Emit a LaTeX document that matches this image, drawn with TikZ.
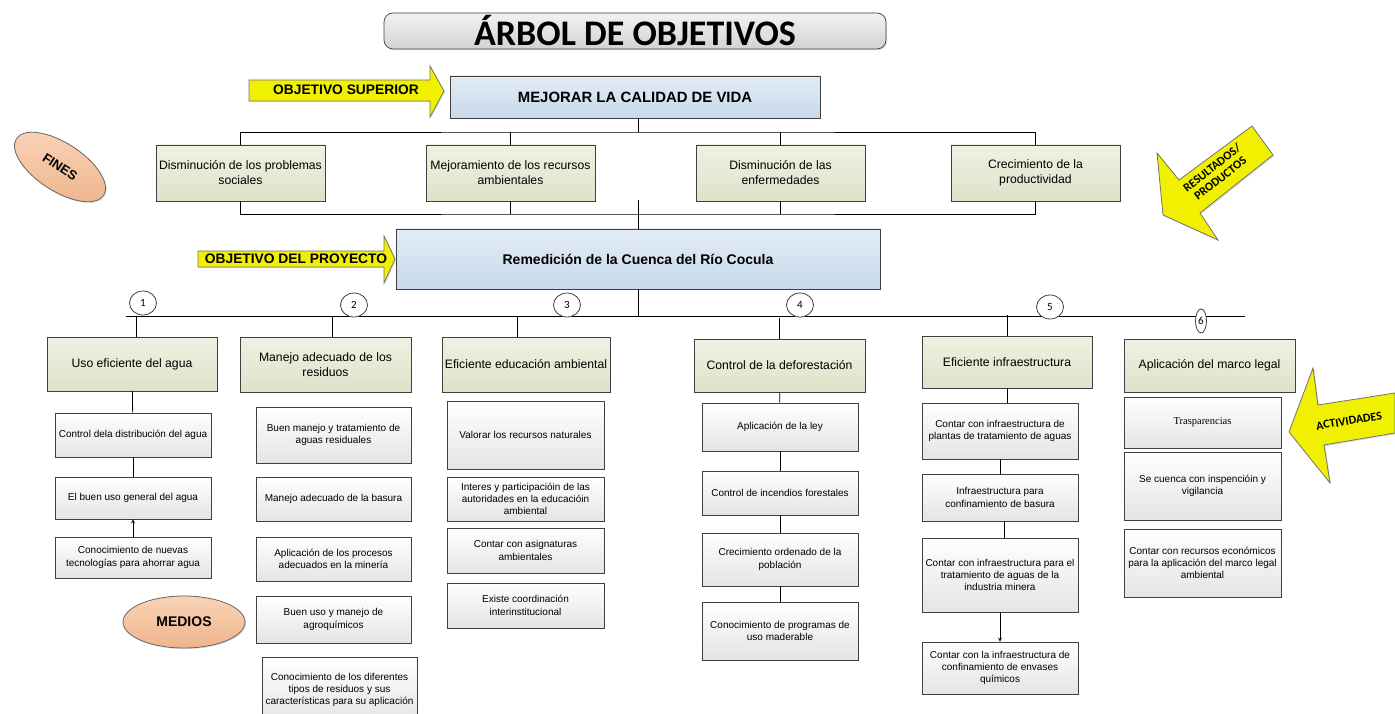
\documentclass[tikz,border=0pt]{standalone}
\usepackage{fontspec}
\setmainfont{Liberation Sans}
\newfontfamily\carlito{Carlito}
\newfontfamily\timesf{Liberation Serif}
\usetikzlibrary{shapes.geometric,shadows}
\definecolor{blueA}{HTML}{E3ECF5}
\definecolor{blueB}{HTML}{C7D9EB}
\definecolor{greenA}{HTML}{EEF2E3}
\definecolor{greenB}{HTML}{DCE3C9}
\definecolor{grayB}{HTML}{E4E4E4}
\definecolor{peachA}{HTML}{F9D3B7}
\definecolor{peachB}{HTML}{EFB58D}
\definecolor{yellowA}{HTML}{F0F000}

\begin{document}
\begin{tikzpicture}[x=1pt,y=-1pt,>=stealth,line width=0.8pt,
    box/.style={draw=black!75,line width=0.7pt,align=center,inner sep=2pt,
        drop shadow={shadow xshift=1.2pt,shadow yshift=-1.2pt,opacity=0.25}},
    obj/.style={box,top color=blueA,bottom color=blueB},
    fin/.style={box,top color=greenA,bottom color=greenB,font=\fontsize{12.2}{15}\selectfont},
    sub/.style={box,top color=white,bottom color=grayB,font=\fontsize{10}{12.3}\selectfont},
    num/.style={draw=black!75,ellipse,fill=white,inner sep=0pt,font=\carlito\fontsize{11}{11}\selectfont},
    peach/.style={ellipse,draw=black!60,top color=peachA,bottom color=peachB,
        drop shadow={shadow xshift=1.2pt,shadow yshift=-1.2pt,opacity=0.25}},
    tag/.style={draw=black!55,fill=yellowA,line join=miter,
        drop shadow={shadow xshift=1.2pt,shadow yshift=-1.2pt,opacity=0.25}}]
\useasboundingbox (0,0) rectangle (1395,714);

% titulo
\node[box,rounded corners=9pt,top color=gray!10,bottom color=gray!35,minimum width=502pt,minimum height=36pt,
    font=\carlito\bfseries\fontsize{36}{36}\selectfont] (title) at (635,31) {ÁRBOL DE OBJETIVOS};

% objetivos
\node[obj,minimum width=370pt,minimum height=42pt,font=\bfseries\fontsize{14.9}{17}\selectfont] (mej) at (635,97) {MEJORAR LA CALIDAD DE VIDA};
\node[obj,minimum width=484pt,minimum height=60pt,font=\bfseries\fontsize{14}{16}\selectfont] (rem) at (638,259) {Remedición de la Cuenca del Río Cocula};

% fines
\foreach \n/\x/\t in {f1/240.5/{Disminución de los problemas\\sociales},
                      f2/510.5/{Mejoramiento de los recursos\\ambientales},
                      f3/780.5/{Disminución de las\\enfermedades},
                      f4/1035.5/{Crecimiento de la\\productividad}}
    \node[fin,minimum width=169pt,minimum height=56pt] (\n) at (\x,173) {\t};

\coordinate (tbar) at (638,132);
\coordinate (bbar) at (638,214);
\draw (mej.south -| tbar) -- (tbar);
\draw (f1.north) |- (tbar) -| (f4.north);
\draw (f2.north) -- (f2.north |- tbar);
\draw (f3.north) -- (f3.north |- tbar);
\draw (f1.south) |- (bbar) -| (f4.south);
\draw (f2.south) -- (f2.south |- bbar);
\draw (f3.south) -- (f3.south |- bbar);
\draw (rem.north) -- ++(0,-29);

% componentes
\node[fin,minimum width=170pt,minimum height=54pt] (g1) at (132,364) {Uso eficiente del agua};
\node[fin,minimum width=171pt,minimum height=55pt] (g2) at (325.5,364.5) {Manejo adecuado de los\\residuos};
\node[fin,minimum width=168pt,minimum height=55pt] (g3) at (526,364.5) {Eficiente educación ambiental};
\node[fin,minimum width=171pt,minimum height=53pt] (g4) at (779.5,365.5) {Control de la deforestación};
\node[fin,minimum width=170pt,minimum height=52pt] (g5) at (1007,362) {Eficiente infraestructura};
\node[fin,minimum width=171pt,minimum height=53pt] (g6) at (1209.5,365.5) {Aplicación del marco legal};

\coordinate (mbarL) at (126,316);
\coordinate (mbarR) at (1245,316);
\draw (mbarL) -- (mbarR);
\draw (rem.south) -- (rem.south |- mbarL);
\foreach \g/\dx in {g1/4,g2/6.5,g3/-9,g4/0,g5/0}
    \draw ([xshift=\dx pt]\g.north) -- ++(0,-21);

\foreach \n/\x/\y in {1/143/303,2/354/305,3/567/305,4/800/305,5/1050/307}
    \node[num,minimum width=27pt,minimum height=24pt] (n\n) at (\x,\y) {\n};
\node[num,minimum width=11pt,minimum height=24pt] (n6) at (1201,321) {6};

% actividades
\foreach \n/\y/\h/\t in {c1a/435/44/{Control dela distribución del agua},
                         c1b/498/42/{El buen uso general del agua},
                         c1c/557.5/41/{Conocimiento de nuevas\\tecnologías para ahorrar agua}}
    \node[sub,minimum width=156pt,minimum height=\h pt] (\n) at (133,\y) {\t};
\foreach \n/\y/\h/\t in {c2a/435/56/{Buen manejo y tratamiento de\\aguas residuales},
                         c2b/499/44/{Manejo adecuado de la basura},
                         c2c/559/44/{Aplicación de los procesos\\adecuados en la minería},
                         c2d/619.5/47/{Buen uso y manejo de\\agroquímicos}}
    \node[sub,minimum width=155pt,minimum height=\h pt] (\n) at (333.5,\y) {\t};
\node[sub,minimum width=155pt,minimum height=66pt] (c2e) at (339.5,690)
    {Conocimiento de los diferentes\\tipos de residuos y sus\\características para su aplicación};
\foreach \n/\y/\h/\t in {c3a/435/68/{Valorar los recursos naturales},
                         c3b/499/44/{Interes y participacióin de las\\autoridades en la educacióin\\ambiental},
                         c3c/550.5/45/{Contar con asignaturas\\ambientales},
                         c3d/605.5/45/{Existe coordinación\\interinstitucional}}
    \node[sub,minimum width=157pt,minimum height=\h pt] (\n) at (525.5,\y) {\t};
\foreach \n/\y/\h/\t in {c4a/427/48/{Aplicación de la ley},
                         c4b/493/44/{Control de incendios forestales},
                         c4c/559.5/53/{Crecimiento ordenado de la\\población},
                         c4d/631/58/{Conocimiento de programas de\\uso maderable}}
    \node[sub,minimum width=156pt,minimum height=\h pt] (\n) at (780,\y) {\t};
\foreach \n/\y/\h/\t in {c5a/431/56/{Contar con infraestructura de\\plantas de tratamiento de aguas},
                         c5b/497.5/47/{Infraestructura para\\confinamiento de basura},
                         c5c/575/74/{Contar con infraestructura para el\\tratamiento de aguas de la\\industria minera},
                         c5d/668/52/{Contar con la infraestructura de\\confinamiento de envases\\químicos}}
    \node[sub,minimum width=156pt,minimum height=\h pt] (\n) at (1000,\y) {\t};
\node[sub,minimum width=157pt,minimum height=51pt,font=\timesf\fontsize{10.5}{12}\selectfont] (c6a) at (1202.5,422.5) {Trasparencias};
\node[sub,minimum width=157pt,minimum height=68pt] (c6b) at (1202.5,486) {Se cuenca con inspencióin y\\vigilancia};
\node[sub,minimum width=157pt,minimum height=68pt] (c6c) at (1202.5,563) {Contar con recursos económicos\\para la aplicación del marco legal\\ambiental};

\draw (g1) -- (c1a);
\draw (c1a) -- (c1b);
\draw[->] (c1c) -- (c1b);
\draw (g4) -- (c4a);
\draw (c4a) -- (c4b);
\draw (c4b) -- (c4c);
\draw (c4c) -- (c4d);
\draw (g5.south) -- (g5.south |- c5a.north);
\draw (c5a) -- (c5b);
\draw ([xshift=4pt]c5b.south) -- ([xshift=4pt]c5c.north);
\draw[->] (c5c) -- (c5d);

% etiquetas
\node[peach,rotate=-33,minimum width=104pt,minimum height=48pt,font=\bfseries\fontsize{13}{13}\selectfont] (fines) at (60,167) {FINES};
\node[peach,minimum width=122pt,minimum height=52pt,font=\bfseries\fontsize{14}{14}\selectfont] (medios) at (184,622) {MEDIOS};

\filldraw[tag] (249,80) -- (430,80) -- (430,66) -- (444,91) -- (430,117) -- (430,101) -- (249,101) -- cycle;
\node[font=\bfseries\fontsize{13.8}{14}\selectfont] (osup) at (346,90) {OBJETIVO SUPERIOR};
\filldraw[tag] (198,251) -- (384,251) -- (384,236) -- (395,259) -- (384,283) -- (384,267) -- (198,267) -- cycle;
\node[font=\bfseries\fontsize{13.8}{14}\selectfont] (oproy) at (296,259) {OBJETIVO DEL PROYECTO};
\filldraw[tag] (1163,215) -- (1157,153) -- (1179,180) -- (1252,126) -- (1273,155) -- (1200,213) -- (1218,240) -- cycle;
\node[rotate=38,align=center,inner sep=0pt,font=\carlito\bfseries\fontsize{12}{13.5}\selectfont] (res) at (1216,173) {RESULTADOS/\\PRODUCTOS};
\filldraw[tag] (1289,432) -- (1313,368) -- (1318,405) -- (1395,393) -- (1395,433) -- (1324,445) -- (1330,483) -- cycle;
\node[rotate=9,font=\carlito\bfseries\fontsize{12}{12}\selectfont] (act) at (1349,421) {ACTIVIDADES};
\end{tikzpicture}
\end{document}
